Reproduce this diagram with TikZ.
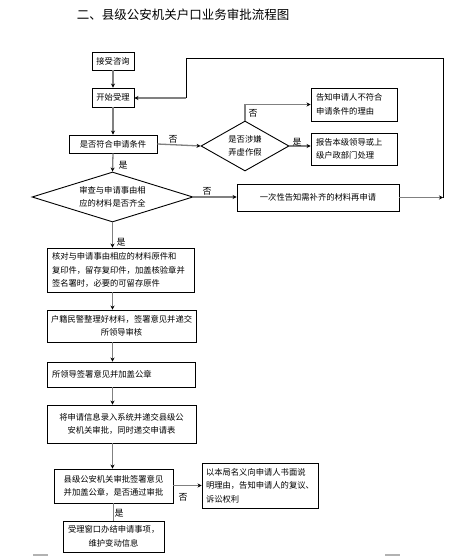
\documentclass[tikz,border=0pt]{standalone}
\usepackage{fontspec}
\setmainfont{Noto Sans CJK SC}
\usetikzlibrary{shapes.geometric,arrows.meta}
\begin{document}
\begin{tikzpicture}[x=1pt,y=-1pt,
  box/.style={draw=black,line width=0.9pt,rectangle,inner xsep=5pt,inner ysep=0pt,
    font=\fontsize{8.3}{13.5}\selectfont},
  dia/.style={draw=black,line width=0.9pt,diamond,inner sep=0pt},
  dtext/.style={font=\fontsize{8.3}{13.5}\selectfont,align=center,inner sep=0pt},
  conn/.style={draw=black!50,line width=1.3pt,-{Stealth[length=4pt,width=4pt,color=black]}},
  plain/.style={draw=black!50,line width=1.3pt},
  fb/.style={draw=black,line width=0.9pt},
  lbl/.style={font=\fontsize{9}{10}\selectfont,inner sep=0pt}]
\useasboundingbox (0,0) rectangle (451,556);
\fill[white] (0,0) rectangle (451,556);

\node[font=\fontsize{12.5}{14}\selectfont,inner sep=0pt] (title) at (183,15) {二、县级公安机关户口业务审批流程图};

% boxes
\node[box,minimum width=42pt,minimum height=18pt,inner xsep=0pt] (ask) at (113,61) {接受咨询};
\node[box,minimum width=42pt,minimum height=19pt,inner xsep=0pt] (start) at (113,97.5) {开始受理};
\node[box,minimum width=88pt,minimum height=18pt,inner xsep=0pt] (cond) at (113,144) {是否符合申请条件};
\node[dia,minimum width=88pt,minimum height=50pt] (fake) at (245,146) {};
\node[dtext] (faket) at (245,146) {是否涉嫌\\弄虚作假};
\node[box,text width=76pt,minimum height=33pt,align=left] (tell) at (354,104.5) {告知申请人不符合\\申请条件的理由};
\node[box,text width=76pt,minimum height=32pt,align=left] (report) at (354,149) {报告本级领导或上\\级户政部门处理};
\node[dia,minimum width=161pt,minimum height=50pt] (mat) at (112.5,197) {};
\node[dtext] (matt) at (112.5,197) {审查与申请事由相\\应的材料是否齐全};
\node[box,text width=152pt,minimum height=27pt,align=center] (once) at (318,197.5) {一次性告知需补齐的材料再申请};
\node[box,text width=137pt,minimum height=44pt,align=left] (check) at (120.5,270) {核对与申请事由相应的材料原件和\\复印件，留存复印件，加盖核验章并\\签名署时，必要的可留存原件};
\node[box,text width=141pt,minimum height=32pt,align=center,inner xsep=4pt] (police) at (121.5,326) {户籍民警整理好材料，签署意见并递交\\所领导审核};
\node[box,text width=138pt,minimum height=25pt,align=left] (leader) at (121,374.5) {所领导签署意见并加盖公章};
\node[box,text width=139pt,minimum height=38pt,align=center] (input) at (121.5,424) {将申请信息录入系统并递交县级公\\安机关审批，同时递交申请表};
\node[box,text width=109pt,minimum height=34pt,align=center] (county) at (113.5,486) {县级公安机关审批签署意见\\并加盖公章，是否通过审批};
\node[box,text width=108pt,minimum height=45pt,align=left,inner xsep=4pt] (refuse) at (260,485.5) {以本局名义向申请人书面说\\明理由，告知申请人的复议、\\诉讼权利};
\node[box,text width=91pt,minimum height=31pt,align=center] (done) at (113.5,536.5) {受理窗口办结申请事项，\\维护变动信息};

% connectors
\draw[conn] (ask) -- (start);
\draw[conn] (start) -- (cond);
\draw[conn] (cond.east) -- (fake.west);
\draw[conn] (fake.north) |- (tell.west);
\draw[conn] (fake.east) -- (fake.east -| report.west);
\draw[conn] (cond.south) -- (mat.north);
\draw[conn] (mat.east) -- (mat.east -| once.west);
\coordinate (fbA) at (443,197.5);
\coordinate (fbB) at (443,58);
\coordinate (fbC) at (186,58);
\coordinate (fbD) at (186,98);
\draw[conn] (once.east) -- (fbA);
\draw[fb] (fbA) -- (fbB) -- (fbC) -- (fbD);
\draw[plain] (fbD) -- ++(-6,0);
\draw[conn] (fbD) -- (fbD -| start.east);
\draw[conn] (mat.south) -- (mat.south |- check.north);
\draw[conn] (mat.south |- check.south) -- (mat.south |- police.north);
\draw[conn] (mat.south |- police.south) -- (mat.south |- leader.north);
\draw[conn] (mat.south |- leader.south) -- (mat.south |- input.north);
\draw[conn] (mat.south |- input.south) -- (mat.south |- county.north);
\draw[conn] (county.east |- refuse.west) -- (refuse.west);
\draw[plain] (county.south) -- (done.north);

% labels
\node[lbl] (l1) at (173,139) {否};
\node[lbl] (l2) at (253,113) {否};
\node[lbl] (l3) at (297,142) {是};
\node[lbl] (l4) at (123,165) {是};
\node[lbl] (l5) at (207,191) {否};
\node[lbl] (l6) at (121,242) {是};
\node[lbl] (l7) at (183,497) {否};
\node[lbl] (l8) at (119,513) {是};

% page marks
\fill[black!30] (33,554) rectangle (48,556);
\fill[black!30] (385,554) rectangle (400,556);
\end{tikzpicture}
\end{document}
